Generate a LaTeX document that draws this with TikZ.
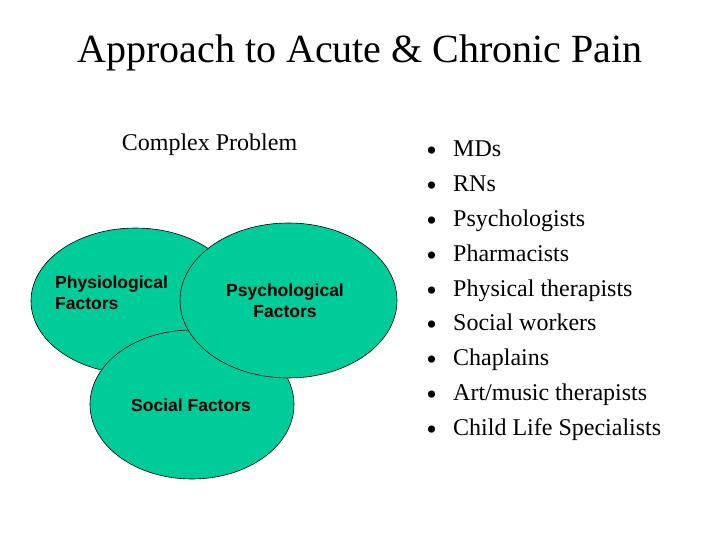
\documentclass[tikz,border=0pt]{standalone}
\usepackage{fontspec}
\setmainfont{Liberation Serif}
\setsansfont{Liberation Sans}
\usetikzlibrary{positioning,shapes.geometric}
\definecolor{paingreen}{RGB}{0,204,153}
\newcommand{\factorblob}[5]{%
  \node[blob,minimum width=#3pt,minimum height=#4pt] (#5) at (#1,#2) {};
}

\begin{document}
\begin{tikzpicture}[x=1pt,y=-1pt,
    blob/.style={ellipse,draw=black,line width=.6pt,fill=paingreen,inner sep=0pt},
    factor/.style={font=\sffamily\bfseries\fontsize{17.5}{21}\selectfont,inner sep=0pt},
    role/.style={font=\fontsize{24}{28}\selectfont,inner sep=0pt,anchor=base west}]
  \useasboundingbox (0,0) rectangle (720,540);
  \node[font=\fontsize{40}{48}\selectfont,inner sep=0pt,anchor=base] (title) at (360,63)
    {Approach to Acute \& Chronic Pain};
  \node[font=\fontsize{24}{28}\selectfont,inner sep=0pt,anchor=base] (problem) at (209.5,151)
    {Complex Problem};
  % overlapping factors, psychological on top
  \factorblob{135.5}{301}{209}{146}{physio}
  \factorblob{192}{404.5}{204}{149}{social}
  \factorblob{288.5}{300.5}{217}{155}{psycho}
  \node[factor,anchor=base west,align=left] (physiotext) at (55,309)
    {Physiological\\Factors};
  \node[factor,anchor=base,align=center] (psychotext) at (285,317)
    {Psychological\\Factors};
  \node[factor,anchor=base] (socialtext) at (191,411) {Social Factors};
  % care team
  \foreach \who [count=\i] in {MDs,RNs,Psychologists,Pharmacists,Physical therapists,
      Social workers,Chaplains,Art/music therapists,Child Life Specialists}{
    \node[role] (role\i) at (453,{157+34.75*(\i-1)}) {\who};
    \node[role,anchor=base,font=\fontsize{30}{30}\selectfont] (dot\i) at (431.5,{161+34.75*(\i-1)}) {\textbullet};
  }
\end{tikzpicture}
\end{document}
